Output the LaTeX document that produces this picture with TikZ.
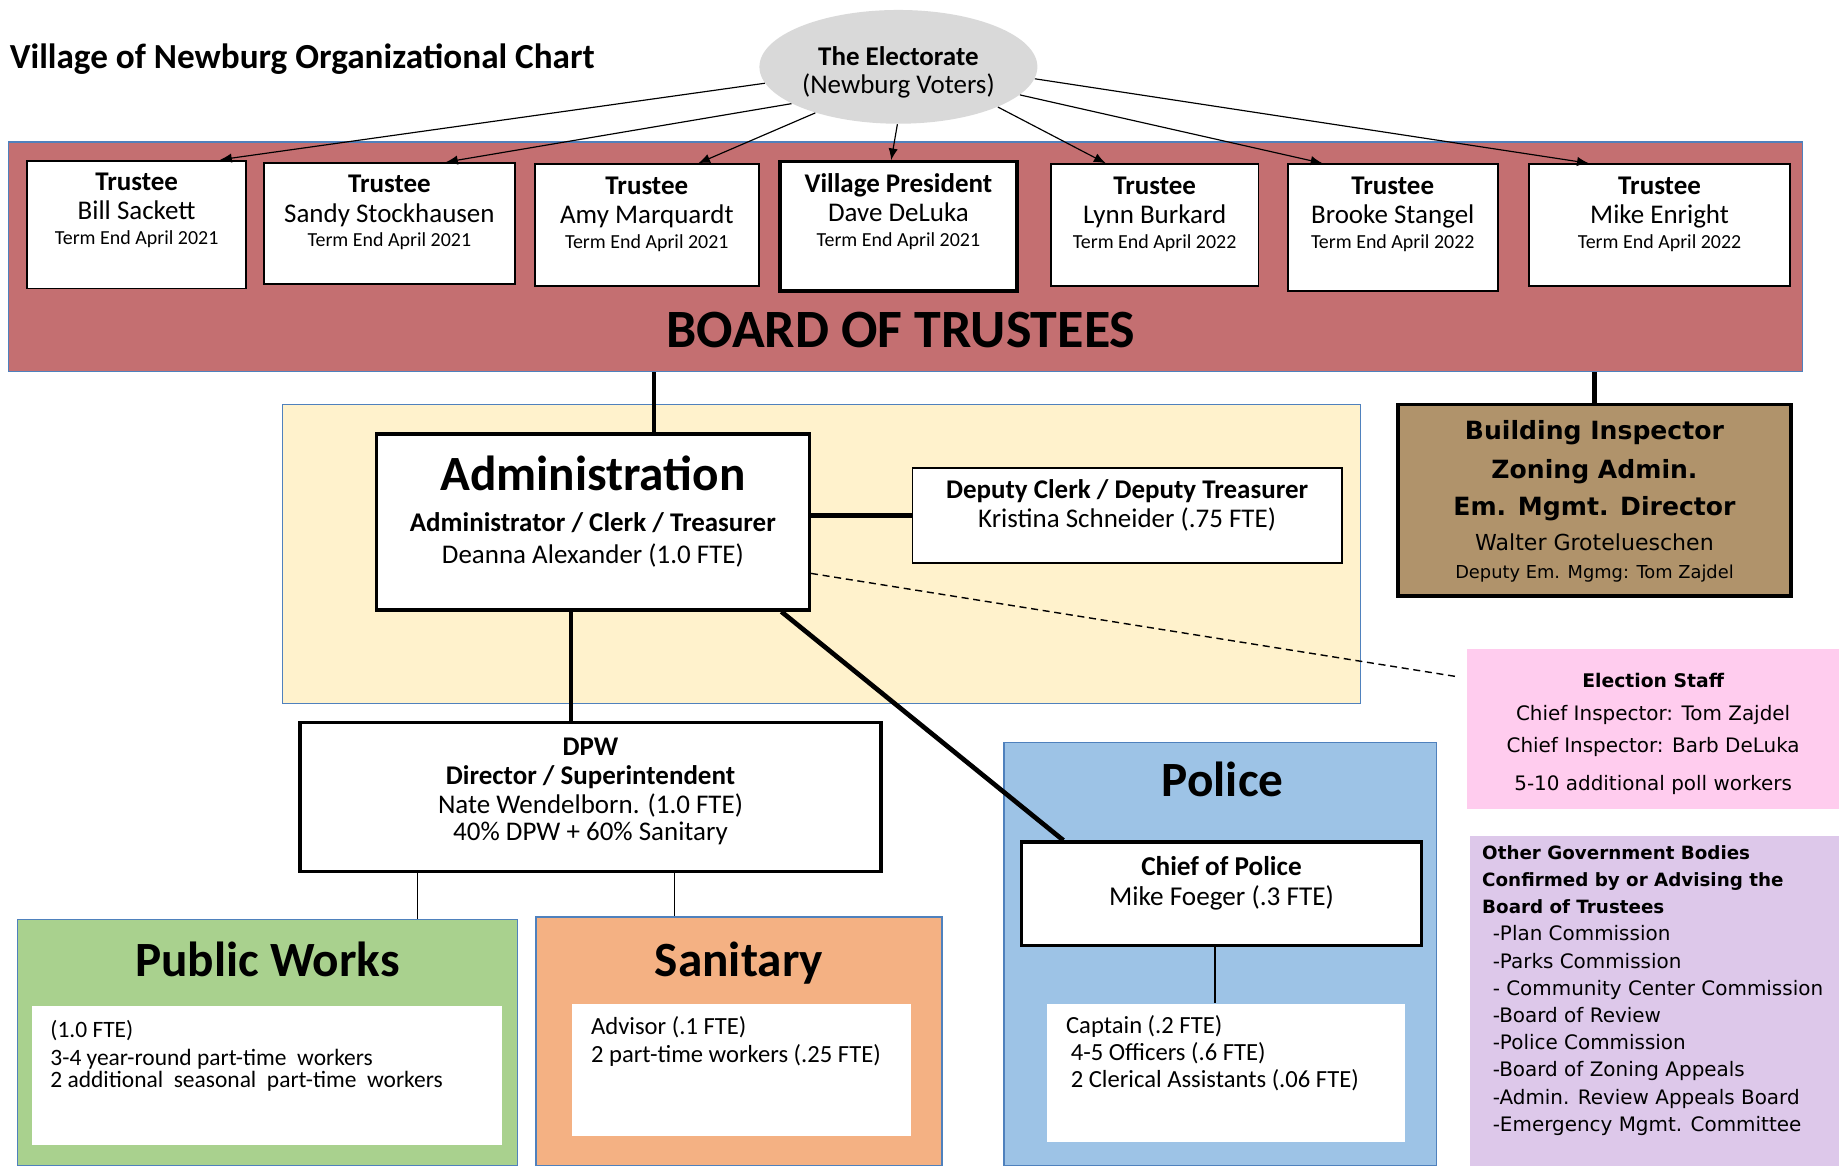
\documentclass[tikz,border=0pt]{standalone}
\usepackage{fontspec}
\setmainfont{Carlito}
\newfontfamily\verdfont{DejaVu Sans}
\usepackage{xcolor}
\usepackage{tikz}
\usetikzlibrary{shapes.geometric, arrows.meta, calc, positioning, fit}

\definecolor{boardrose}{RGB}{196,111,113}
\definecolor{votegray}{RGB}{217,217,217}
\definecolor{admyellow}{RGB}{255,242,204}
\definecolor{bldgtan}{RGB}{176,147,107}
\definecolor{electpink}{RGB}{255,204,238}
\definecolor{otherlav}{RGB}{221,200,234}
\definecolor{pwgreen}{RGB}{169,209,142}
\definecolor{sanorange}{RGB}{244,177,131}
\definecolor{polblue}{RGB}{157,195,230}
\definecolor{edgeblue}{RGB}{79,129,189}

\newcommand{\termline}[1]{{\fontsize{8.5}{10}\selectfont #1}}
\newcommand{\bodyhead}[1]{{\bfseries\fontsize{7.8}{11.6}\selectfont #1}}

\begin{document}
\begin{tikzpicture}[x=0.5pt, y=-0.5pt]
\useasboundingbox (0,0) rectangle (1568,994);

% coloured areas
\begin{scope}[every node/.style={inner sep=0pt, line width=0.6pt}]
    \node[draw=edgeblue, fill=boardrose, fit={(7,121) (1537,317)}] (board) {};
    \node[draw=edgeblue, fill=admyellow, fit={(241,345) (1160,600)}] (admarea) {};
    \node[draw=edgeblue, fill=pwgreen, fit={(15,784) (441,994)}] (pw) {};
    \node[draw=edgeblue, fill=sanorange, fit={(457,782) (803,994)}] (san) {};
    \node[draw=edgeblue, fill=polblue, fit={(856,633) (1225,994)}] (pol) {};
    \node[fill=electpink, fit={(1251,553) (1568,690)}] (elec) {};
    \node[fill=otherlav, fit={(1253,713) (1568,994)}] (other) {};
\end{scope}

\node[anchor=west, inner sep=0pt, font=\bfseries\fontsize{15}{18}\selectfont] (title) at (8,50) {Village of Newburg Organizational Chart};
\node[ellipse, fill=votegray, minimum width=118.5pt, minimum height=48.5pt, inner sep=0pt] (elect) at (766,57) {};
\node[align=center, inner sep=0pt, font=\fontsize{11.5}{12}\selectfont, yshift=-2.2pt] (elect-txt) at (elect) {\textbf{The Electorate}\\(Newburg Voters)};
\node[inner sep=0pt, font=\bfseries\fontsize{23}{26}\selectfont] (boardtitle) at (768,281) {BOARD OF TRUSTEES};

% trustees
\begin{scope}[every node/.style={draw, fill=white, line width=0.8pt, inner sep=0pt}]
    \node[fit={(23,137) (210,246)}] (sackett) {};
    \node[fit={(225,139) (439,242)}] (stockhausen) {};
    \node[fit={(456,140) (647,244)}] (marquardt) {};
    \node[fit={(665,138) (867,248)}, line width=1.4pt] (deluka) {};
    \node[fit={(896,140) (1073,244)}] (burkard) {};
    \node[fit={(1098,140) (1277,248)}] (stangel) {};
    \node[fit={(1304,140) (1526,244)}] (enright) {};
\end{scope}

\begin{scope}[every node/.style={align=center, inner sep=0pt, font=\fontsize{11.5}{12.5}\selectfont}]
    \node[below=5.5pt of sackett.north] (sackett-txt) {\textbf{Trustee}\\Bill Sackett\\[-2pt]\termline{Term End April 2021}};
    \node[below=5.5pt of stockhausen.north] (stockhausen-txt) {\textbf{Trustee}\\Sandy Stockhausen\\[-2pt]\termline{Term End April 2021}};
    \node[below=5.5pt of marquardt.north] (marquardt-txt) {\textbf{Trustee}\\Amy Marquardt\\[-2pt]\termline{Term End April 2021}};
    \node[below=5.5pt of deluka.north] (deluka-txt) {\textbf{Village President}\\Dave DeLuka\\[-2pt]\termline{Term End April 2021}};
    \node[below=5.5pt of burkard.north] (burkard-txt) {\textbf{Trustee}\\Lynn Burkard\\[-2pt]\termline{Term End April 2022}};
    \node[below=5.5pt of stangel.north] (stangel-txt) {\textbf{Trustee}\\Brooke Stangel\\[-2pt]\termline{Term End April 2022}};
    \node[below=5.5pt of enright.north] (enright-txt) {\textbf{Trustee}\\Mike Enright\\[-2pt]\termline{Term End April 2022}};
\end{scope}

% staff boxes
\begin{scope}[every node/.style={draw, fill=white, line width=1.5pt, inner sep=0pt}]
    \node[fit={(321,370) (690,520)}] (adm) {};
    \node[fit={(778,399) (1144,480)}, line width=0.8pt] (dep) {};
    \node[fit={(256,616) (751,743)}] (dpw) {};
    \node[fit={(871,718) (1212,806)}] (chief) {};
    \node[fit={(1192,345) (1527,508)}, fill=bldgtan] (bldg) {};
\end{scope}
\begin{scope}[every node/.style={fill=white, inner sep=0pt}]
    \node[fit={(27,858) (428,976)}] (pwpane) {};
    \node[fit={(488,856) (777,969)}] (sanpane) {};
    \node[fit={(893,856) (1198,974)}] (polpane) {};
\end{scope}

\begin{scope}[every node/.style={align=center, inner sep=0pt, font=\fontsize{11.5}{12.5}\selectfont}]
    \node[below=10pt of adm.north, font=\fontsize{11.5}{13.5}\selectfont] (adm-txt) {{\bfseries\fontsize{21}{24}\selectfont Administration}\\[4pt]\textbf{Administrator / Clerk / Treasurer}\\Deanna Alexander (1.0 FTE)};
    \node[below=5pt of dep.north] (dep-txt) {\textbf{Deputy Clerk / Deputy Treasurer}\\Kristina Schneider (.75 FTE)};
    \node[below=7pt of dpw.north] (dpw-txt) {\textbf{DPW}\\\textbf{Director / Superintendent}\\Nate Wendelborn. (1.0 FTE)\\[-1pt]40\% DPW + 60\% Sanitary};
    \node[below=6.5pt of chief.north, font=\fontsize{11.6}{13}\selectfont] (chief-txt) {\textbf{Chief of Police}\\Mike Foeger (.3 FTE)};
    \node[below=7.5pt of bldg.north, font=\verdfont\bfseries\fontsize{10.7}{16.2}\selectfont] (bldg-txt) {Building Inspector\\Zoning Admin.\\[-0.2pt]Em. Mgmt. Director\\[-1.2pt]{\mdseries\fontsize{9.4}{11}\selectfont Walter Grotelueschen}\\[-4.2pt]{\mdseries\fontsize{7.6}{9}\selectfont Deputy Em. Mgmg: Tom Zajdel}};
    \node[below=10.5pt of elec.north, font=\verdfont\fontsize{8.5}{14}\selectfont] (elec-txt) {{\bfseries\fontsize{8}{14}\selectfont Election Staff}\\Chief Inspector: Tom Zajdel\\Chief Inspector: Barb DeLuka\\[2pt]5-10 additional poll workers};
    \node[below right=4pt and 5.5pt of other.north west, align=left, font=\verdfont\fontsize{8.5}{11.6}\selectfont] (other-txt) {\bodyhead{Other Government Bodies}\\\bodyhead{Confirmed by or Advising the}\\\bodyhead{Board of Trustees}\\
        \hspace*{4.5pt}-Plan Commission\\\hspace*{4.5pt}-Parks Commission\\\hspace*{4.5pt}- Community Center Commission\\\hspace*{4.5pt}-Board of Review\\
        \hspace*{4.5pt}-Police Commission\\\hspace*{4.5pt}-Board of Zoning Appeals\\\hspace*{4.5pt}-Admin. Review Appeals Board\\\hspace*{4.5pt}-Emergency Mgmt. Committee};
    \node[below=9.5pt of pw.north, font=\bfseries\fontsize{21}{24}\selectfont] (pw-title) {Public Works};
    \node[below=10.7pt of san.north, font=\bfseries\fontsize{21}{24}\selectfont] (san-title) {Sanitary};
    \node[below=8.6pt of pol.north, xshift=1pt, font=\bfseries\fontsize{21}{24}\selectfont] (pol-title) {Police};
    \node[below right=6pt and 8pt of pwpane.north west, align=left, font=\fontsize{10}{9.5}\selectfont] (pw-txt) {(1.0 FTE)\\[2.5pt]3-4 year-round part-time~ workers\\2 additional~ seasonal~ part-time~ workers};
    \node[below right=5.2pt and 8pt of sanpane.north west, align=left, font=\fontsize{10.5}{12}\selectfont] (san-txt) {Advisor (.1 FTE)\\2 part-time workers (.25 FTE)};
    \node[below right=5pt and 8pt of polpane.north west, align=left, font=\fontsize{10.5}{11.5}\selectfont] (pol-txt) {Captain (.2 FTE)\\\hspace*{2pt}4-5 Officers (.6 FTE)\\\hspace*{2pt}2 Clerical Assistants (.06 FTE)};
\end{scope}

% votes
\begin{scope}[-{Latex[length=5pt,width=4pt]}, line width=0.5pt]
    \draw (elect.187) -- ($(sackett.north west)!0.877!(sackett.north east)$);
    \draw (elect.199) -- ($(stockhausen.north west)!0.724!(stockhausen.north east)$);
    \draw (elect.209) -- ($(marquardt.north west)!0.728!(marquardt.north east)$);
    \draw (elect.269) -- ($(deluka.north west)!0.47!(deluka.north east)$);
    \draw (elect.338) -- ($(burkard.north west)!0.266!(burkard.north east)$);
    \draw (elect.347) -- ($(stangel.north west)!0.168!(stangel.north east)$);
    \draw (elect.355) -- ($(enright.north west)!0.23!(enright.north east)$);
\end{scope}

% links
\coordinate (admtop) at ($(adm.north west)!0.64!(adm.north east)$);
\coordinate (admfoot) at ($(adm.south west)!0.45!(adm.south east)$);
\coordinate (admcorner) at ($(adm.south west)!0.932!(adm.south east)$);
\coordinate (admside) at ($(adm.north east)!0.787!(adm.south east)$);
\coordinate (chieftop) at ($(chief.north west)!0.108!(chief.north east)$);
\coordinate (chiefleg) at ($(chief.south west)!0.484!(chief.south east)$);
\coordinate (elecside) at ($(elec.north west)!0.18!(elec.south west)$);
\coordinate (dpwleft) at ($(dpw.south west)!0.204!(dpw.south east)$);
\coordinate (dpwright) at ($(dpw.south west)!0.644!(dpw.south east)$);

\begin{scope}[line width=2pt]
    \draw (admtop) -- (admtop |- board.south);
    \draw (bldg.north) -- (bldg.north |- board.south);
    \draw (adm.east |- dep.west) -- (dep.west);
    \draw (admfoot) -- (admfoot |- dpw.north);
    \draw (admcorner) -- (chieftop);
\end{scope}
\draw[line width=0.6pt, dash pattern=on 3pt off 2pt] (admside) -- ($(elecside)+(-6,0)$);
\begin{scope}[line width=0.6pt]
    \draw (dpwleft) -- (dpwleft |- pw.north);
    \draw (dpwright) -- (dpwright |- san.north);
    \draw (chiefleg) -- (chiefleg |- polpane.north);
\end{scope}
\end{tikzpicture}
\end{document}
